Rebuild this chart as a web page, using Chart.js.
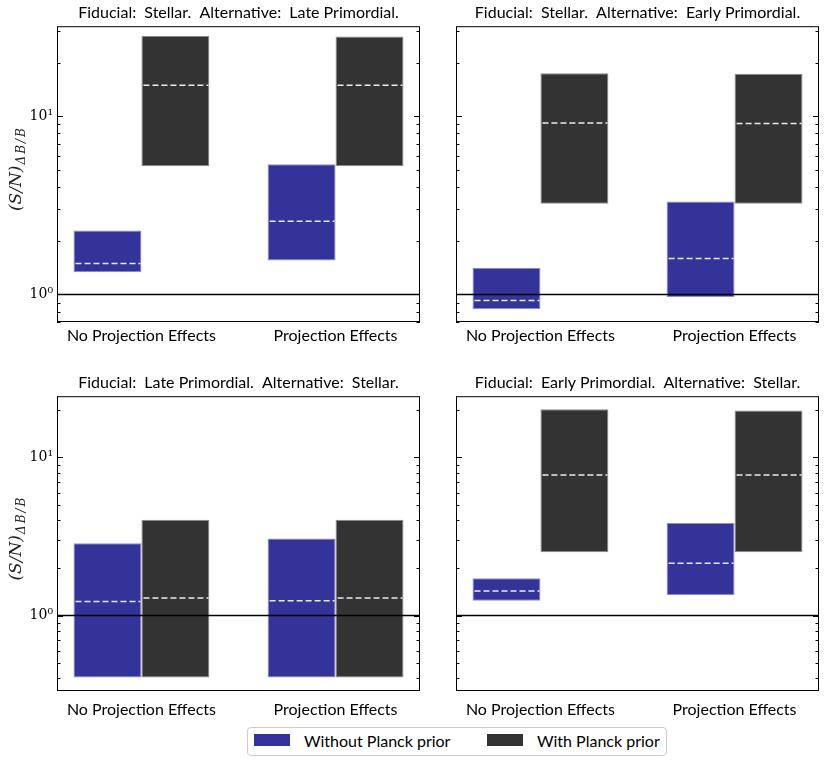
<!DOCTYPE html>
<html>
<head>
<meta charset="utf-8">
<script src="https://cdn.jsdelivr.net/npm/chart.js@4.4.1/dist/chart.umd.min.js"></script>
<style>
  body { margin: 0; background: #fff; width: 830px; height: 764px; position: relative; overflow: hidden; }
  .panel { position: absolute; }
  #legend { position: absolute; left: 247px; top: 727px; width: 420px; height: 29px; box-sizing: border-box;
    border: 1px solid #cccccc; border-radius: 4px; font-family: Lato, sans-serif; font-size: 16px; }
  #legend .sw { position: absolute; top: 6px; width: 36px; height: 12px; }
  #legend .tx { position: absolute; top: 3px; line-height: 20px; color: #000; }
</style>
</head>
<body>
<div class="panel" style="left:0;top:0;width:425px;height:360px"><canvas id="c0"></canvas></div>
<div class="panel" style="left:425px;top:0;width:405px;height:360px"><canvas id="c1"></canvas></div>
<div class="panel" style="left:0;top:360px;width:425px;height:364px"><canvas id="c2"></canvas></div>
<div class="panel" style="left:425px;top:360px;width:405px;height:364px"><canvas id="c3"></canvas></div>
<div id="legend"></div>
<script>
const categories = ['No Projection Effects', 'Projection Effects'];
const seriesNames = ['Without Planck prior', 'With Planck prior'];
const seriesColors = ['#333399', '#333333'];
const edgeColors = ['#8c8cc6', '#8a8a8a'];
const panelTitles = [
  'Fiducial:  Stellar.  Alternative:  Late Primordial.',
  'Fiducial:  Stellar.  Alternative:  Early Primordial.',
  'Fiducial:  Late Primordial.  Alternative:  Stellar.',
  'Fiducial:  Early Primordial.  Alternative:  Stellar.'
];

// [low, high] per category, plus the median (dashed line)
const slWithout = [[1.33, 2.28], [1.55, 5.37]];
const slWithoutMed = [1.49, 2.57];
const slWith = [[5.24, 28.3], [5.24, 28.0]];
const slWithMed = [14.9, 14.9];

const seWithout = [[0.827, 1.41], [0.966, 3.32]];
const seWithoutMed = [0.925, 1.59];
const seWith = [[3.23, 17.4], [3.23, 17.3]];
const seWithMed = [9.17, 9.1];

const lsWithout = [[0.406, 2.87], [0.406, 3.07]];
const lsWithoutMed = [1.226, 1.24];
const lsWith = [[0.406, 4.04], [0.406, 4.04]];
const lsWithMed = [1.29, 1.29];

const esWithout = [[1.24, 1.72], [1.35, 3.85]];
const esWithoutMed = [1.43, 2.14];
const esWith = [[2.51, 20.2], [2.51, 19.8]];
const esWithMed = [7.74, 7.74];

const topRange = [0.7, 32];
const bottomRange = [0.333, 24.4];
const topTicks = [0.7, 0.8, 0.9, 1, 2, 3, 4, 5, 6, 7, 8, 9, 10, 20, 30];
const bottomTicks = [0.4, 0.5, 0.6, 0.7, 0.8, 0.9, 1, 2, 3, 4, 5, 6, 7, 8, 9, 10, 20];
const majorTicks = [1, 10];
const majorLabels = ['10\u2070', '10\u00b9'];
const xLimits = [-0.435, 1.435];

const sansFont = 'Lato, sans-serif';
const serifFont = '"DejaVu Serif", serif';

const panelDecor = {
  id: 'panelDecor',
  afterDatasetsDraw(chart, args, opts) {
    const { ctx, chartArea: a, scales: { y } } = chart;
    ctx.save();
    // S/N = 1 reference line
    const y1 = y.getPixelForValue(1);
    ctx.strokeStyle = '#000';
    ctx.lineWidth = 1.5;
    ctx.beginPath(); ctx.moveTo(a.left, y1); ctx.lineTo(a.right, y1); ctx.stroke();
    // dashed medians
    ctx.strokeStyle = 'rgba(255,255,255,0.9)';
    ctx.lineWidth = 1.5;
    ctx.setLineDash([6, 3]);
    opts.medians.forEach((meds, d) => {
      chart.getDatasetMeta(d).data.forEach((bar, i) => {
        const { x, width } = bar.getProps(['x', 'width'], true);
        const py = y.getPixelForValue(meds[i]);
        ctx.beginPath(); ctx.moveTo(x - width / 2 + 2, py); ctx.lineTo(x + width / 2 - 1, py); ctx.stroke();
      });
    });
    ctx.setLineDash([]);
    // frame and inward ticks on both sides
    ctx.strokeStyle = '#000';
    ctx.lineWidth = 1;
    ctx.strokeRect(a.left + 0.5, a.top + 0.5, a.width - 1, a.height - 1);
    opts.ticks.forEach(v => {
      const py = Math.round(y.getPixelForValue(v)) + 0.5;
      const len = majorTicks.includes(v) ? 6 : 3.5;
      ctx.beginPath();
      ctx.moveTo(a.left, py); ctx.lineTo(a.left + len, py);
      ctx.moveTo(a.right, py); ctx.lineTo(a.right - len, py);
      ctx.stroke();
    });
    // y axis title with subscript
    if (opts.ylabel) {
      ctx.translate(17, (a.top + a.bottom) / 2 - 4);
      ctx.rotate(-Math.PI / 2);
      ctx.fillStyle = '#222';
      ctx.textBaseline = 'middle';
      const main = '(S/N)';
      const sub = '\u0394B/B';
      ctx.font = 'italic 17px ' + serifFont;
      const w1 = ctx.measureText(main).width;
      ctx.font = 'italic 12px ' + serifFont;
      const w2 = ctx.measureText(sub).width + 6;
      const x0 = -(w1 + w2) / 2;
      ctx.font = 'italic 17px ' + serifFont;
      ctx.fillText(main, x0, 0);
      ctx.font = 'italic 12px ' + serifFont;
      ctx.letterSpacing = '2px';
      ctx.fillText(sub, x0 + w1 + 1, 5);
    }
    ctx.restore();
  }
};

function makePanel(id, title, ranges, medians, yRange, ticks, cfg) {
  new Chart(document.getElementById(id), {
    type: 'bar',
    data: {
      datasets: ranges.map((r, d) => ({
        label: seriesNames[d],
        data: r.map((v, i) => ({ x: i, y: v })),
        backgroundColor: seriesColors[d],
        borderColor: edgeColors[d],
        borderWidth: 1,
        borderSkipped: false,
        categoryPercentage: 0.7,
        barPercentage: 1
      }))
    },
    plugins: [panelDecor],
    options: {
      responsive: true,
      maintainAspectRatio: false,
      animation: false,
      layout: { padding: { left: 0, top: 0, bottom: 0, right: cfg.padRight } },
      plugins: {
        legend: { display: false },
        tooltip: { enabled: false },
        title: {
          display: true, text: title, fullSize: false, color: '#000',
          font: { family: sansFont, size: 16, weight: 'normal', lineHeight: 1.2 },
          padding: { top: cfg.titleTop, bottom: cfg.titleBottom }
        },
        panelDecor: { medians, ticks, ylabel: cfg.ylabel }
      },
      scales: {
        x: {
          type: 'linear', min: xLimits[0], max: xLimits[1], offset: false,
          grid: { display: false, drawTicks: false }, border: { display: false },
          afterBuildTicks: s => { s.ticks = categories.map((c, i) => ({ value: i })); },
          afterFit: s => { s.height = cfg.xAxisH; },
          ticks: {
            autoSkip: false, maxRotation: 0, minRotation: 0, padding: cfg.xPad, color: '#000',
            font: { family: sansFont, size: 16 },
            callback: v => categories[v]
          }
        },
        y: {
          type: 'logarithmic', min: yRange[0], max: yRange[1], bounds: 'data',
          grid: { display: false, drawTicks: false }, border: { display: false },
          afterBuildTicks: s => { s.ticks = ticks.map(v => ({ value: v })); },
          afterFit: s => { s.width = cfg.yAxisW; },
          ticks: {
            autoSkip: false, padding: 4, color: '#000',
            font: { family: serifFont, size: 14 },
            callback: v => {
              const k = majorTicks.indexOf(v);
              return cfg.ylabel && k >= 0 ? majorLabels[k] : '';
            }
          }
        }
      }
    }
  });
}

makePanel('c0', panelTitles[0], [slWithout, slWith], [slWithoutMed, slWithMed], topRange, topTicks,
  { padRight: 5, titleTop: 3, titleBottom: 4, xAxisH: 38, xPad: 4, yAxisW: 57, ylabel: true });
makePanel('c1', panelTitles[1], [seWithout, seWith], [seWithoutMed, seWithMed], topRange, topTicks,
  { padRight: 11, titleTop: 3, titleBottom: 4, xAxisH: 38, xPad: 4, yAxisW: 31, ylabel: false });
makePanel('c2', panelTitles[2], [lsWithout, lsWith], [lsWithoutMed, lsWithMed], bottomRange, bottomTicks,
  { padRight: 5, titleTop: 13, titleBottom: 4, xAxisH: 33, xPad: 9, yAxisW: 57, ylabel: true });
makePanel('c3', panelTitles[3], [esWithout, esWith], [esWithoutMed, esWithMed], bottomRange, bottomTicks,
  { padRight: 11, titleTop: 13, titleBottom: 4, xAxisH: 33, xPad: 9, yAxisW: 31, ylabel: false });

// legend built from the series arrays
const legend = document.getElementById('legend');
const swatchLeft = [6, 239];
const textLeft = [56, 289];
seriesNames.forEach((name, d) => {
  const sw = document.createElement('div');
  sw.className = 'sw';
  sw.style.left = swatchLeft[d] + 'px';
  sw.style.background = seriesColors[d];
  legend.appendChild(sw);
  const tx = document.createElement('div');
  tx.className = 'tx';
  tx.style.left = textLeft[d] + 'px';
  tx.textContent = name;
  legend.appendChild(tx);
});
</script>
</body>
</html>
